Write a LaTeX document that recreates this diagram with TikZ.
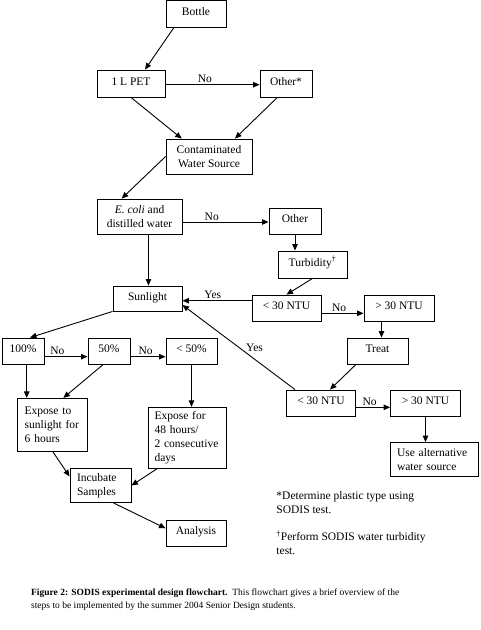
\documentclass[tikz,border=0pt]{standalone}
\usepackage{fontspec}
\setmainfont{Liberation Serif}
\usetikzlibrary{arrows.meta}
\tikzset{
  every picture/.style={x=1pt, y=-1pt, line width=0.9pt, font=\fontsize{11.5}{14}\selectfont},
  box/.style={draw, inner sep=0pt, align=center},
  one/.style={box, text height=9pt, text depth=6pt},
  lbox/.style={box, align=left},
  arrow/.style={-{Triangle[length=6.5pt, width=5.5pt]}},
  lbl/.style={inner sep=1.5pt, text depth=0pt},
  note/.style={align=left, inner sep=0pt, anchor=west},
  capt/.style={font=\fontsize{9.5}{12.4}\selectfont, align=left, inner sep=0pt, anchor=west},
}

\begin{document}
\begin{tikzpicture}
  \useasboundingbox (0,0) rectangle (480,630);

  % ---- bottle and water source
  \node[one, minimum width=60pt, minimum height=26.5pt] (bottle) at (196,13.75) {Bottle};
  \node[one, minimum width=68pt, minimum height=27pt] (pet)    at (131,83.5)  {1 L PET};
  \node[one, minimum width=52pt, minimum height=27pt] (other1) at (286,83.5)  {Other*};
  \node[box, minimum width=86pt, minimum height=35pt] (cws)    at (209,156.5) {Contaminated\\Water Source};
  \node[box, minimum width=85pt, minimum height=35pt] (ecoli)  at (139.5,216.5) {\textit{E. coli} and\\distilled water};
  \node[one, minimum width=52pt, minimum height=26pt] (other2) at (295,221)   {Other};
  \node[one, minimum width=69pt, minimum height=27pt] (turb)   at (312.5,264.5) {Turbidity\textsuperscript{†}};

  % ---- turbidity check
  \node[one, minimum width=69pt, minimum height=26pt] (lt30a)  at (286.5,308) {< 30 NTU};
  \node[one, minimum width=70pt, minimum height=26pt] (gt30a)  at (399,308)   {> 30 NTU};
  \node[one, minimum width=61pt, minimum height=26pt] (treat)  at (377.5,351) {Treat};
  \node[one, minimum width=69pt, minimum height=26pt] (lt30b)  at (321,403)   {< 30 NTU};
  \node[one, minimum width=70pt, minimum height=26pt] (gt30b)  at (425.5,403) {> 30 NTU};
  \node[lbox, text width=75pt, minimum width=88pt, minimum height=34pt] (use) at (434.5,459.5) {Use alternative\\water source};

  % ---- exposure
  \node[one, minimum width=69pt, minimum height=25pt] (sun)    at (147.5,298.5) {Sunlight};
  \node[one, minimum width=42pt, minimum height=26pt] (p100)   at (23,351)    {100\%};
  \node[one, minimum width=42pt, minimum height=26pt] (p50)    at (109,351)   {50\%};
  \node[one, minimum width=51pt, minimum height=26pt] (plt50)  at (191.5,351) {< 50\%};
  \node[lbox, text width=56pt, minimum width=70pt, minimum height=52.7pt] (exsun) at (52.7,424.7) {Expose to\\sunlight for\\6 hours};
  \node[lbox, text width=65pt, minimum width=78pt, minimum height=61pt] (ex48) at (187,437.8) {Expose for\\48 hours/\\2 consecutive\\days};
  \node[lbox, text width=47pt, minimum width=61pt, minimum height=34pt] (incubate) at (100.5,485.5) {Incubate\\Samples};
  \node[one, minimum width=60pt, minimum height=26pt] (analysis) at (196,533) {Analysis};

  % ---- notes
  \node[note] (fnplastic) at (276,503) {*Determine plastic type using\\SODIS test.};
  \node[note] (fnturb)    at (276,542.7) {\textsuperscript{†}Perform SODIS water turbidity\\test.};
  \node[capt] (figcap) at (30.7,599.5) {\textbf{Figure 2: SODIS experimental design flowchart.}\ \ This flowchart gives a brief overview of the\\steps to be implemented by the summer 2004 Senior Design students.};

  % top
  \draw[arrow] ([xshift=-22pt]bottle.south) -- ([xshift=14pt]pet.north);
  \draw[arrow] ([yshift=-1.2pt]pet.east) -- ([yshift=-1.2pt]other1.west) node[lbl, pos=0.42, above] {No};
  \draw[arrow] (pet.south) -- ([xshift=-27.3pt]cws.north);
  \draw[arrow] ([xshift=-8.7pt]other1.south) -- ([xshift=26pt]cws.north);
  \draw[arrow] (cws.west) -- ([xshift=-17.8pt]ecoli.north);
  \draw[arrow] ([yshift=-5.5pt]ecoli.east) -- ([yshift=-1pt]other2.west) node[lbl, pos=0.34, above] {No};
  \draw[arrow] (other2.south) -- ([xshift=-17.5pt]turb.north);
  \draw[arrow] (turb.south) -- (lt30a.north);
  \draw[arrow] ([xshift=9pt]ecoli.south) -- ([xshift=1pt]sun.north);

  % turbidity
  \draw[arrow] ([yshift=7.3pt]lt30a.west) -- ([yshift=-2.2pt]sun.east) node[lbl, pos=0.56, above] {Yes};
  \draw[arrow] ([yshift=-5.3pt]lt30a.east) -- ([yshift=-5.3pt]gt30a.west) node[lbl, pos=0.42, above] {No};
  \draw[arrow] ([xshift=-17.5pt]gt30a.south) -- ([xshift=4pt]treat.north);
  \draw[arrow] ([xshift=-21.5pt]treat.south) -- ([xshift=9pt]lt30b.north);
  \draw[arrow] ([yshift=-4.3pt]lt30b.east) -- ([yshift=-4.3pt]gt30b.west) node[lbl, pos=0.4, above] {No};
  \draw[arrow] (gt30b.south) -- ([xshift=-9pt]use.north);
  \draw[arrow] ([xshift=-26pt]lt30b.north) -- ([yshift=-6.5pt]sun.east) node[lbl, pos=0.36, above=6pt] {Yes};

  % exposure
  \draw[arrow] (sun.south west) -- ([xshift=7pt]p100.north);
  \foreach \a/\b/\p in {p100/p50/0.3, p50/plt50/0.43}
    \draw[arrow] ([yshift=-5.7pt]\a.east) -- ([yshift=-5.7pt]\b.west) node[lbl, pos=\p, above] {No};
  \draw[arrow] ([xshift=3.7pt]p100.south) -- ([xshift=-26pt]exsun.north);
  \draw[arrow] ([xshift=-5.7pt]p50.south) -- ([xshift=10.6pt]exsun.north);
  \draw[arrow] (plt50.south) -- ([xshift=4.5pt]ex48.north);
  \draw[arrow] (exsun.south) -- ([yshift=-8.4pt]incubate.north west);
  \draw[arrow] ([xshift=-30pt]ex48.south) -- (incubate.east);
  \draw[arrow] ([xshift=13pt]incubate.south) -- ([yshift=4.7pt]analysis.west);
\end{tikzpicture}
\end{document}
